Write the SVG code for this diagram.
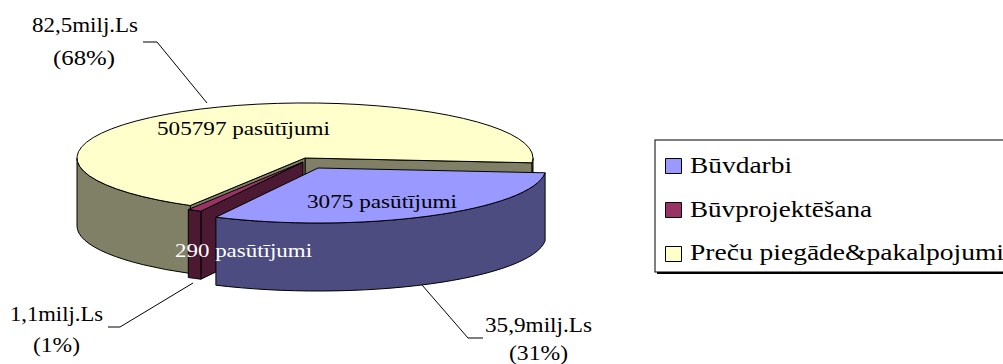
<svg xmlns="http://www.w3.org/2000/svg" width="1003" height="364" viewBox="0 0 1003 364">
<style>
.ol{stroke:#000;stroke-width:1;stroke-linejoin:round}
.yt{fill:#FFFFCC}.ys{fill:#808066}
.bt{fill:#9999FF}.bs{fill:#4C4C80}
.mt{fill:#993366}.ms{fill:#4C1933}
.lbl{font-family:"Liberation Serif",serif;font-size:22px;fill:#000}
.in{font-family:"Liberation Serif",serif;font-size:18px;fill:#000}
.lg{font-family:"Liberation Serif",serif;font-size:24px;fill:#000}
.ld{fill:none;stroke:#000;stroke-width:1}
</style>
<rect width="1003" height="364" fill="#fff"/>
<g id="slice-preces">
<path class="ol ys" d="M305,158 L532.1,162.8 L532.1,230.8 L305,226 Z"/>
<path class="ol ys" d="M305,158 L190.3,205.5 L190.3,273.5 L305,226 Z"/>
<path class="ol ys" d="M190.3,205.5 A228 55 0 0 1 77,158 L77,226 A228 55 0 0 0 190.3,273.5 Z"/>
<path class="ol ys" d="M533,158 A228 55 0 0 1 532.1,162.8 L532.1,230.8 A228 55 0 0 0 533,226 Z"/>
<path class="ol yt" d="M305,158 L190.3,205.5 A228 55 0 1 1 532.1,162.8 Z"/>
<text class="in" x="157" y="135" textLength="173" lengthAdjust="spacingAndGlyphs">505797 pasūtījumi</text>
</g>
<g id="slice-buvprojektesana">
<path class="ol ms" d="M303,162 L200.9,211.2 L200.9,279.2 L303,230 Z"/>
<path class="ol ms" d="M200.9,211.2 A228 55 0 0 1 188.3,209.5 L188.3,277.5 A228 55 0 0 0 200.9,279.2 Z"/>
<path class="ol mt" d="M303,162 L200.9,211.2 A228 55 0 0 1 188.3,209.5 Z"/>
</g>
<g id="slice-buvdarbi">
<path class="ol bs" d="M545.1,172.8 A228 55 0 0 1 215.9,217.2 L215.9,285.2 A228 55 0 0 0 545.1,240.8 Z"/>
<path class="ol bt" d="M318,168 L545.1,172.8 A228 55 0 0 1 215.9,217.2 Z"/>
<text class="in" x="307" y="208" textLength="150" lengthAdjust="spacingAndGlyphs">3075 pasūtījumi</text>
</g>
<text class="in" x="175" y="257" textLength="137" lengthAdjust="spacingAndGlyphs" style="fill:#fff">290 pasūtījumi</text>
<g id="connectors">
<polyline class="ld" points="143,42 157,42 207,103"/>
<polyline class="ld" points="193,283 120,327 108,327"/>
<polyline class="ld" points="422,285 468,338 483,338"/>
</g>
<g id="label-preces">
<text class="lbl" x="32" y="32" textLength="106" lengthAdjust="spacingAndGlyphs">82,5milj.Ls</text>
<text class="lbl" x="53" y="65" textLength="62" lengthAdjust="spacingAndGlyphs">(68%)</text>
</g>
<g id="label-buvprojektesana">
<text class="lbl" x="10" y="321" textLength="93" lengthAdjust="spacingAndGlyphs">1,1milj.Ls</text>
<text class="lbl" x="33" y="352" textLength="47" lengthAdjust="spacingAndGlyphs">(1%)</text>
</g>
<g id="label-buvdarbi">
<text class="lbl" x="485" y="332" textLength="107" lengthAdjust="spacingAndGlyphs">35,9milj.Ls</text>
<text class="lbl" x="509" y="360" textLength="59" lengthAdjust="spacingAndGlyphs">(31%)</text>
</g>
<g id="legend">
<rect x="657" y="142" width="360" height="132" fill="#000"/>
<rect x="655" y="140" width="360" height="132" fill="#fff" stroke="#000" stroke-width="1"/>
<rect class="ol bt" x="665.5" y="158.5" width="16" height="15"/>
<text class="lg" x="690" y="173" textLength="102" lengthAdjust="spacingAndGlyphs">Būvdarbi</text>
<rect class="ol mt" x="665.5" y="202.5" width="16" height="15"/>
<text class="lg" x="690" y="217" textLength="182" lengthAdjust="spacingAndGlyphs">Būvprojektēšana</text>
<rect class="ol yt" x="665.5" y="246.5" width="16" height="15"/>
<text class="lg" x="690" y="260" textLength="314" lengthAdjust="spacingAndGlyphs">Preču piegāde&amp;pakalpojumi</text>
</g>
</svg>
